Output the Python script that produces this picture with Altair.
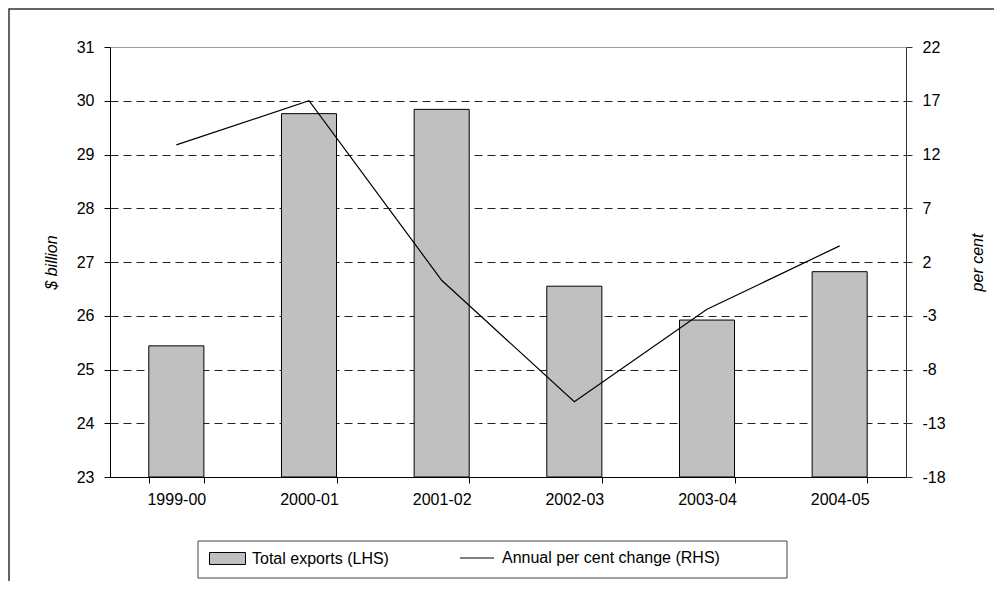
import altair as alt
import pandas as pd

years = ["1999-00", "2000-01", "2001-02", "2002-03", "2003-04", "2004-05"]
exports = [25.44, 29.76, 29.84, 26.55, 25.92, 26.82]
change = [12.9, 17.0, 0.3, -11.0, -2.4, 3.5]
left_ticks = [23, 24, 25, 26, 27, 28, 29, 30, 31]
right_ticks = [-18, -13, -8, -3, 2, 7, 12, 17, 22]
baseline = 23

df = pd.DataFrame({
    "year": years,
    "exports": exports,
    "change": change,
    "s1": ["Total exports (LHS)"] * len(years),
    "s2": ["Annual per cent change (RHS)"] * len(years),
})

FONT = "Liberation Sans"

x_enc = alt.X(
    "year:N", sort=years,
    scale=alt.Scale(paddingInner=0.585, paddingOuter=0.2925),
    axis=alt.Axis(title=None, labelAngle=0, tickBand="extent", tickSize=6,
                  labelPadding=8, domainColor="black", tickColor="black",
                  labelColor="black", labelFontSize=16, labelFont=FONT),
)

bars = alt.Chart(df).mark_bar(stroke="black", strokeWidth=1).encode(
    x=x_enc,
    y=alt.Y("exports:Q",
            scale=alt.Scale(domain=[23, 31], zero=False, nice=False),
            axis=alt.Axis(
                values=left_ticks, title="$ billion", grid=True,
                gridDash={"condition": {"test": "datum.value == 31", "value": [1, 0]}, "value": [8, 5]},
                gridColor={"condition": {"test": "datum.value == 31", "value": "#8a8a8a"}, "value": "#222222"},
                gridWidth=1,
                tickSize=6, labelPadding=10, domainColor="black", tickColor="black",
                labelColor="black", labelFontSize=16, labelFont=FONT,
                titleFont=FONT, titleFontSize=16, titleFontStyle="italic",
                titleFontWeight="normal", titleColor="black",
                titleAngle=270, titleX=-59, titleY=215,
                titleAlign="center", titleBaseline="middle")),
    y2=alt.datum(baseline),
    fill=alt.Fill("s1:N", scale=alt.Scale(range=["#C0C0C0"]),
                  legend=alt.Legend(title=None, orient="none", legendX=99, legendY=493,
                                    symbolType="M-1,-0.333H1V0.333H-1Z", symbolSize=1296,
                                    symbolStrokeColor="black", symbolStrokeWidth=1,
                                    symbolFillColor="#C0C0C0", labelLimit=400,
                                    labelOffset=6, labelFontSize=16, labelFont=FONT,
                                    labelColor="black", padding=0)),
)

line = alt.Chart(df).mark_line(color="black", strokeWidth=1.2).encode(
    x=alt.X("year:N", sort=years),
    y=alt.Y("change:Q",
            scale=alt.Scale(domain=[-18, 22], nice=False, zero=False),
            axis=alt.Axis(
                orient="right", values=right_ticks, title="per cent", grid=False,
                labelExpr="'' + datum.value",
                tickSize=6, labelPadding=10, domainColor="#333333", tickColor="#333333",
                labelColor="black", labelFontSize=16, labelFont=FONT,
                titleFont=FONT, titleFontSize=16, titleFontStyle="italic",
                titleFontWeight="normal", titleColor="black",
                titleAngle=270, titleX=71, titleY=215,
                titleAlign="center", titleBaseline="middle")),
    stroke=alt.Stroke("s2:N", scale=alt.Scale(range=["black"]),
                      legend=alt.Legend(title=None, orient="none", legendX=349, legendY=493,
                                        symbolType="stroke", symbolSize=1156,
                                        symbolStrokeWidth=1.2, symbolStrokeColor="black",
                                        labelOffset=7, labelFontSize=16, labelFont=FONT,
                                        labelColor="black", padding=0, labelLimit=400)),
)

one = pd.DataFrame({"a": [0]})
frame = alt.Chart(one).mark_rect(fill="white", fillOpacity=0, stroke="#333333", strokeWidth=1.5).encode(
    x=alt.value(-101), x2=alt.value(900), y=alt.value(-38), y2=alt.value(600))
legend_box = alt.Chart(one).mark_rect(fill="white", stroke="#444444", strokeWidth=1).encode(
    x=alt.value(88), x2=alt.value(677), y=alt.value(494), y2=alt.value(531))

chart = alt.layer(frame, legend_box, bars, line).resolve_scale(
    y="independent", fill="independent", stroke="independent"
).properties(
    width=796, height=430,
    autosize=alt.AutoSizeParams(type="none"),
    padding={"left": 102, "top": 39, "right": 88, "bottom": 104},
).configure_view(stroke=None).configure(font=FONT)

chart.save("out.html", embed_options={"renderer": "svg", "actions": False})
